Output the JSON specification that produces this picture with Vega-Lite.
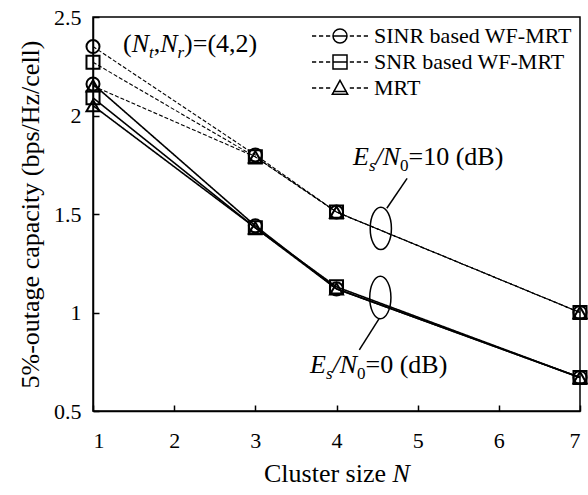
{
  "$schema": "https://vega.github.io/schema/vega-lite/v6.json",
  "width": 487,
  "height": 394,
  "autosize": "none",
  "padding": {"left": 93, "top": 17, "right": 8, "bottom": 84},
  "background": "white",
  "config": {
    "font": "Liberation Serif",
    "view": {"stroke": "black", "strokeWidth": 1.5},
    "axis": {
      "domainColor": "black", "domainWidth": 1.5,
      "tickColor": "black", "tickWidth": 1.5,
      "labelColor": "black", "titleColor": "black",
      "labelFont": "Liberation Serif", "titleFont": "Liberation Serif",
      "grid": false, "labelFontSize": 22, "titleFontSize": 26, "titleFontWeight": "normal"
    },
    "legend": {
      "labelFont": "Liberation Serif", "labelFontSize": 22, "labelColor": "black", "labelLimit": 0
    }
  },
  "datasets": {
    "curves": [
      {"N": 1, "cap": 2.35, "method": "SINR based WF-MRT", "snr": "10 dB"},
      {"N": 3, "cap": 1.80, "method": "SINR based WF-MRT", "snr": "10 dB"},
      {"N": 4, "cap": 1.51, "method": "SINR based WF-MRT", "snr": "10 dB"},
      {"N": 7, "cap": 1.00, "method": "SINR based WF-MRT", "snr": "10 dB"},
      {"N": 1, "cap": 2.27, "method": "SNR based WF-MRT", "snr": "10 dB"},
      {"N": 3, "cap": 1.79, "method": "SNR based WF-MRT", "snr": "10 dB"},
      {"N": 4, "cap": 1.51, "method": "SNR based WF-MRT", "snr": "10 dB"},
      {"N": 7, "cap": 1.00, "method": "SNR based WF-MRT", "snr": "10 dB"},
      {"N": 1, "cap": 2.15, "method": "MRT", "snr": "10 dB"},
      {"N": 3, "cap": 1.79, "method": "MRT", "snr": "10 dB"},
      {"N": 4, "cap": 1.51, "method": "MRT", "snr": "10 dB"},
      {"N": 7, "cap": 1.00, "method": "MRT", "snr": "10 dB"},
      {"N": 1, "cap": 2.16, "method": "SINR based WF-MRT", "snr": "0 dB"},
      {"N": 3, "cap": 1.44, "method": "SINR based WF-MRT", "snr": "0 dB"},
      {"N": 4, "cap": 1.12, "method": "SINR based WF-MRT", "snr": "0 dB"},
      {"N": 7, "cap": 0.67, "method": "SINR based WF-MRT", "snr": "0 dB"},
      {"N": 1, "cap": 2.09, "method": "SNR based WF-MRT", "snr": "0 dB"},
      {"N": 3, "cap": 1.43, "method": "SNR based WF-MRT", "snr": "0 dB"},
      {"N": 4, "cap": 1.13, "method": "SNR based WF-MRT", "snr": "0 dB"},
      {"N": 7, "cap": 0.67, "method": "SNR based WF-MRT", "snr": "0 dB"},
      {"N": 1, "cap": 2.05, "method": "MRT", "snr": "0 dB"},
      {"N": 3, "cap": 1.43, "method": "MRT", "snr": "0 dB"},
      {"N": 4, "cap": 1.12, "method": "MRT", "snr": "0 dB"},
      {"N": 7, "cap": 0.67, "method": "MRT", "snr": "0 dB"}
    ],
    "ellipses": [
      {"N": 4.546, "cap": 1.427},
      {"N": 4.540, "cap": 1.076}
    ],
    "leaders": [
      {"N": 4.62, "cap": 1.529, "N2": 4.87, "cap2": 1.681},
      {"N": 4.527, "cap": 0.970, "N2": 4.281, "cap2": 0.810}
    ],
    "upright": [
      {"N": 1.3696, "cap": 2.322, "label": "("},
      {"N": 1.7478, "cap": 2.322, "label": ","},
      {"N": 2.1224, "cap": 2.322, "label": ")=(4,2)"},
      {"N": 4.8871, "cap": 1.749, "label": "=10 (dB)"},
      {"N": 4.3573, "cap": 0.693, "label": "=0 (dB)"},
      {"N": 3.1068, "cap": 0.1396, "label": "Cluster size"}
    ],
    "italic": [
      {"N": 1.4768, "cap": 2.322, "label": "N"},
      {"N": 1.8279, "cap": 2.322, "label": "N"},
      {"N": 4.2033, "cap": 1.749, "label": "E"},
      {"N": 4.4805, "cap": 1.749, "label": "/"},
      {"N": 4.5692, "cap": 1.749, "label": "N"},
      {"N": 3.6735, "cap": 0.693, "label": "E"},
      {"N": 3.9507, "cap": 0.693, "label": "/"},
      {"N": 4.0394, "cap": 0.693, "label": "N"},
      {"N": 4.6899, "cap": 0.1396, "label": "N"}
    ],
    "italicSub": [
      {"N": 1.6899, "cap": 2.292, "label": "t"},
      {"N": 2.0411, "cap": 2.292, "label": "r"},
      {"N": 4.3992, "cap": 1.718, "label": "s"},
      {"N": 3.8694, "cap": 0.662, "label": "s"}
    ],
    "uprightSub": [
      {"N": 4.7823, "cap": 1.718, "label": "0"},
      {"N": 4.2526, "cap": 0.662, "label": "0"}
    ]
  },
  "layer": [
    {
      "data": {"name": "curves"},
      "mark": {"type": "line", "color": "black"},
      "encoding": {
        "x": {
          "field": "N", "type": "quantitative",
          "scale": {"domain": [1, 7], "nice": false, "zero": false},
          "axis": {"values": [1, 2, 3, 4, 5, 6, 7], "format": "d", "tickSize": -6, "labelPadding": 25, "title": null}
        },
        "y": {
          "field": "cap", "type": "quantitative",
          "scale": {"domain": [0.5, 2.5], "nice": false, "zero": false},
          "axis": {"values": [0.5, 1, 1.5, 2, 2.5], "format": "~g", "tickSize": -6, "labelPadding": 18, "title": "5%-outage capacity (bps/Hz/cell)", "titlePadding": 10}
        },
        "detail": {"field": "method"},
        "strokeDash": {"field": "snr", "type": "nominal", "scale": {"domain": ["10 dB", "0 dB"], "range": [[4, 2], [1, 0]]}, "legend": null},
        "strokeWidth": {"field": "snr", "type": "nominal", "scale": {"domain": ["10 dB", "0 dB"], "range": [1.1, 1.6]}, "legend": null}
      }
    },
    {
      "data": {"name": "curves"},
      "mark": {"type": "point", "filled": false, "color": "black", "strokeWidth": 2, "size": 170, "opacity": 1},
      "encoding": {
        "x": {"field": "N", "type": "quantitative"},
        "y": {"field": "cap", "type": "quantitative"},
        "shape": {"field": "method", "type": "nominal", "scale": {"domain": ["SINR based WF-MRT", "SNR based WF-MRT", "MRT"], "range": ["circle", "square", "triangle-up"]}, "legend": null}
      }
    },
    {
      "data": {"name": "curves"},
      "mark": {"type": "point", "filled": false, "color": "black", "strokeWidth": 1.5, "opacity": 0},
      "encoding": {
        "x": {"field": "N", "type": "quantitative"},
        "y": {"field": "cap", "type": "quantitative"},
        "shape": {
          "field": "method", "type": "nominal",
          "scale": {
            "domain": ["SINR based WF-MRT", "SNR based WF-MRT", "MRT"],
            "range": [
              "M-4,0H-3.4M-3,0H-2.4M-2,0H-1.4M1.4,0H2M2.4,0H3M3.4,0H4M-1,0H1M1,0A1,1,0,1,1,-1,0A1,1,0,1,1,1,0Z",
              "M-4,0H-3.4M-3,0H-2.4M-2,0H-1.4M1.4,0H2M2.4,0H3M3.4,0H4M-1,0H1M-1,-1H1V1H-1Z",
              "M-4,0H-3.4M-3,0H-2.4M-2,0H-1.4M1.4,0H2M2.4,0H3M3.4,0H4M-1,0.5H1M0,-1.1L1.1,0.9H-1.1Z"
            ]
          },
          "legend": {
            "title": null, "orient": "none", "legendX": 236, "legendY": 8,
            "symbolSize": 196, "symbolOpacity": 1, "symbolStrokeColor": "black", "symbolStrokeWidth": 1.5,
            "labelOffset": 23, "rowPadding": 4, "padding": 0
          }
        }
      }
    },
    {
      "data": {"name": "ellipses"},
      "mark": {"type": "point", "filled": false, "color": "black", "opacity": 1, "strokeWidth": 1.5, "size": 1800, "shape": "M0,-1A0.5,1,0,1,1,0,1A0.5,1,0,1,1,0,-1Z"},
      "encoding": {
        "x": {"field": "N", "type": "quantitative"},
        "y": {"field": "cap", "type": "quantitative"}
      }
    },
    {
      "data": {"name": "leaders"},
      "mark": {"type": "rule", "color": "black", "strokeWidth": 1.5, "opacity": 1},
      "encoding": {
        "x": {"field": "N", "type": "quantitative"},
        "y": {"field": "cap", "type": "quantitative"},
        "x2": {"field": "N2"},
        "y2": {"field": "cap2"}
      }
    },
    {
      "data": {"name": "upright"},
      "mark": {"type": "text", "align": "left", "baseline": "alphabetic", "font": "Liberation Serif", "fontSize": 26, "color": "black"},
      "encoding": {
        "x": {"field": "N", "type": "quantitative"},
        "y": {"field": "cap", "type": "quantitative"},
        "text": {"field": "label"}
      }
    },
    {
      "data": {"name": "italic"},
      "mark": {"type": "text", "align": "left", "baseline": "alphabetic", "font": "Liberation Serif", "fontSize": 26, "fontStyle": "italic", "color": "black"},
      "encoding": {
        "x": {"field": "N", "type": "quantitative"},
        "y": {"field": "cap", "type": "quantitative"},
        "text": {"field": "label"}
      }
    },
    {
      "data": {"name": "italicSub"},
      "mark": {"type": "text", "align": "left", "baseline": "alphabetic", "font": "Liberation Serif", "fontSize": 17, "fontStyle": "italic", "color": "black"},
      "encoding": {
        "x": {"field": "N", "type": "quantitative"},
        "y": {"field": "cap", "type": "quantitative"},
        "text": {"field": "label"}
      }
    },
    {
      "data": {"name": "uprightSub"},
      "mark": {"type": "text", "align": "left", "baseline": "alphabetic", "font": "Liberation Serif", "fontSize": 17, "color": "black"},
      "encoding": {
        "x": {"field": "N", "type": "quantitative"},
        "y": {"field": "cap", "type": "quantitative"},
        "text": {"field": "label"}
      }
    }
  ],
  "resolve": {"scale": {"shape": "independent"}}
}
